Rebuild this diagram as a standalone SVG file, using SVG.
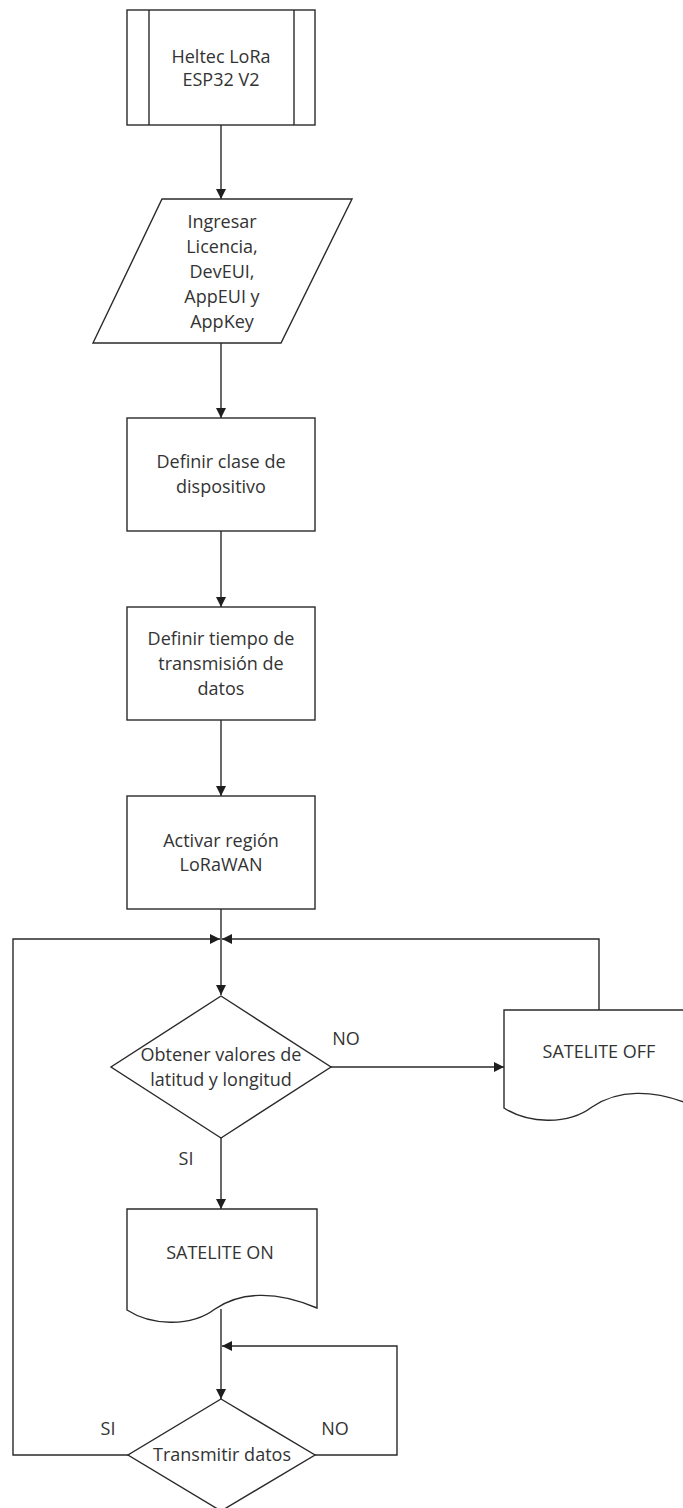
<svg xmlns="http://www.w3.org/2000/svg" width="683" height="1508" viewBox="0 0 683 1508">
<style>
.shape{fill:#fff;stroke:#2a2a2a;stroke-width:1.4}
.line{fill:none;stroke:#2a2a2a;stroke-width:1.4}
.t{font-family:"Open Sans","Liberation Sans",sans-serif;font-size:18px;fill:#333;text-anchor:middle}
</style>
<defs>
<marker id="ah" viewBox="0 0 10 10" refX="10" refY="5" markerWidth="10" markerHeight="10" markerUnits="userSpaceOnUse" orient="auto">
<path d="M0,0 L10,5 L0,10 Z" fill="#1e1e1e"/>
</marker>
</defs>
<rect width="683" height="1508" fill="#fff"/>
<g id="connectors">
<line class="line" x1="221" y1="125" x2="221" y2="199" marker-end="url(#ah)"/>
<line class="line" x1="221" y1="343" x2="221" y2="418" marker-end="url(#ah)"/>
<line class="line" x1="221" y1="531" x2="221" y2="607" marker-end="url(#ah)"/>
<line class="line" x1="221" y1="720" x2="221" y2="796" marker-end="url(#ah)"/>
<line class="line" x1="221" y1="909" x2="221" y2="995" marker-end="url(#ah)"/>
<polyline class="line" points="599,1010 599,939 222,939" marker-end="url(#ah)"/>
<polyline class="line" points="128,1455 13,1455 13,939 220,939" marker-end="url(#ah)"/>
<line class="line" x1="331" y1="1067" x2="504" y2="1067" marker-end="url(#ah)"/>
<line class="line" x1="221" y1="1138" x2="221" y2="1209" marker-end="url(#ah)"/>
<line class="line" x1="221" y1="1309" x2="221" y2="1399" marker-end="url(#ah)"/>
<polyline class="line" points="315,1455 397,1455 397,1346 222,1346" marker-end="url(#ah)"/>
<text class="t" x="346" y="1045">NO</text>
<text class="t" x="186" y="1165">SI</text>
<text class="t" x="108" y="1435">SI</text>
<text class="t" x="335" y="1435">NO</text>
</g>
<g id="n1">
<rect class="shape" x="127" y="10" width="188" height="115"/>
<line class="line" x1="149" y1="10" x2="149" y2="125"/>
<line class="line" x1="294" y1="10" x2="294" y2="125"/>
<text class="t" x="221" y="63">Heltec LoRa</text>
<text class="t" x="221" y="86">ESP32 V2</text>
</g>
<g id="n2">
<polygon class="shape" points="162,199 352,199 281,343 93,343"/>
<text class="t" x="222" y="228">Ingresar</text>
<text class="t" x="222" y="253">Licencia,</text>
<text class="t" x="222" y="278">DevEUI,</text>
<text class="t" x="222" y="303">AppEUI y</text>
<text class="t" x="222" y="328">AppKey</text>
</g>
<g id="n3">
<rect class="shape" x="127" y="418" width="188" height="113"/>
<text class="t" x="221" y="468">Definir clase de</text>
<text class="t" x="221" y="493">dispositivo</text>
</g>
<g id="n4">
<rect class="shape" x="127" y="607" width="188" height="113"/>
<text class="t" x="221" y="645">Definir tiempo de</text>
<text class="t" x="221" y="670">transmisión de</text>
<text class="t" x="221" y="695">datos</text>
</g>
<g id="n5">
<rect class="shape" x="127" y="796" width="188" height="113"/>
<text class="t" x="221" y="847">Activar región</text>
<text class="t" x="221" y="871">LoRaWAN</text>
</g>
<g id="d1">
<polygon class="shape" points="221,996 331,1067 221,1138 111,1067"/>
<text class="t" x="221" y="1061">Obtener valores de</text>
<text class="t" x="221" y="1086">latitud y longitud</text>
</g>
<g id="off">
<path class="shape" d="M504,1010 H694 V1106 C652,1088 617,1090 592,1107 C567,1126 527,1123 504,1108 Z"/>
<text class="t" x="599" y="1058">SATELITE OFF</text>
</g>
<g id="on">
<path class="shape" d="M127,1209 H317 V1308 C275,1290 240,1292 215,1309 C190,1328 150,1325 127,1310 Z"/>
<text class="t" x="220" y="1259">SATELITE ON</text>
</g>
<g id="d2">
<polygon class="shape" points="221,1399 315,1455 221,1511 128,1455"/>
<text class="t" x="222" y="1461">Transmitir datos</text>
</g>
</svg>
